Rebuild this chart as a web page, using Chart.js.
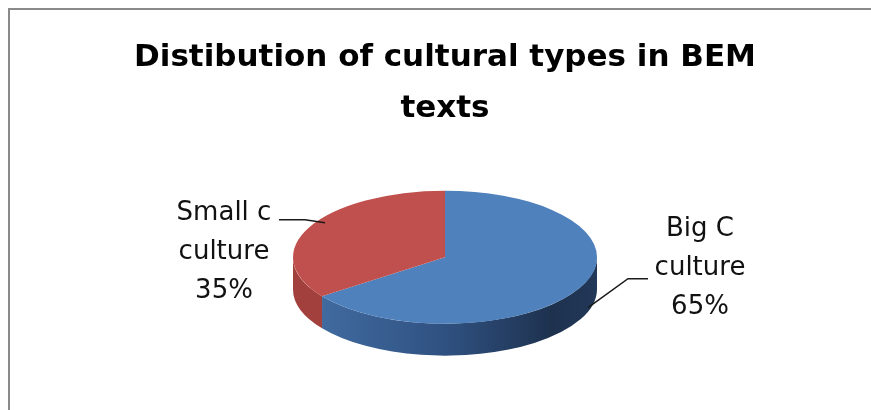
<!DOCTYPE html>
<html>
<head>
  <meta charset="UTF-8" />
  <title>Distibution of cultural types in BEM texts</title>
  <style>
    html, body { margin: 0; padding: 0; background: #fff; }
    .wrap { position: relative; width: 871px; height: 410px; overflow: hidden; }
    .frame {
      position: absolute; left: 8px; top: 8px; right: -10px; bottom: -10px;
      border-left: 2px solid #8a8a8a; border-top: 2px solid #8a8a8a;
    }
    canvas { position: absolute; left: 0; top: 0; }
  </style>
</head>
<body>
  <div class="wrap">
    <div class="frame"></div>
    <canvas id="pieChart" width="871" height="410"></canvas>
  </div>

  <script src="https://cdn.jsdelivr.net/npm/chart.js"></script>
  <script>
    const categories = ['Big C culture', 'Small c culture'];
    const labelLines = [['Big C', 'culture'], ['Small c', 'culture']];
    const values = [65, 35];
    const sliceColors = ['#4f81bd', '#c0504d'];

    // 3D look: squash the pie vertically and draw the side wall under it
    const tilt = 0.4375;
    const depth = 32;

    // label / leader line placement, relative to pie centre
    const labelLayout = [
      { anchor: [143, 50.5], elbow: [183, 21.5], end: [203, 21.5], text: [255, 11.5] },
      { anchor: [-120, -34.5], elbow: [-140, -37.5], end: [-166, -37.5], text: [-221, -4.5] }
    ];

    function pieGeom(chart) {
      const arc = chart.getDatasetMeta(0).data[0];
      return { cx: arc.x, cy: arc.y, r: arc.outerRadius };
    }

    const pie3d = {
      id: 'pie3d',
      beforeDatasetsDraw(chart) {
        const ctx = chart.ctx;
        const { cx, cy, r } = pieGeom(chart);
        const ry = r * tilt;
        const arcs = chart.getDatasetMeta(0).data;

        const blueSide = ctx.createLinearGradient(cx - r, 0, cx + r, 0);
        blueSide.addColorStop(0, '#4570a6');
        blueSide.addColorStop(0.5, '#2f5181');
        blueSide.addColorStop(0.85, '#1e324f');
        blueSide.addColorStop(1, '#223858');
        const sides = [blueSide, '#a2403d'];

        arcs.forEach((a, i) => {
          let s = a.startAngle, e = a.endAngle;
          const a1 = Math.max(s, 0), a2 = Math.min(e, Math.PI);
          if (a2 <= a1) return;
          ctx.save();
          ctx.beginPath();
          ctx.ellipse(cx, cy, r, ry, 0, a1, a2);
          ctx.ellipse(cx, cy + depth, r, ry, 0, a2, a1, true);
          ctx.closePath();
          ctx.fillStyle = sides[i];
          ctx.fill();
          ctx.restore();
        });

        ctx.save();
        ctx.translate(cx, cy);
        ctx.scale(1, tilt);
        ctx.translate(-cx, -cy);
      },
      afterDatasetsDraw(chart) {
        chart.ctx.restore();
      },
      afterDraw(chart) {
        const ctx = chart.ctx;
        const { cx, cy } = pieGeom(chart);
        const total = values.reduce((a, b) => a + b, 0);
        ctx.save();
        labelLayout.forEach((L, i) => {
          ctx.beginPath();
          ctx.moveTo(cx + L.anchor[0], cy + L.anchor[1]);
          ctx.lineTo(cx + L.elbow[0], cy + L.elbow[1]);
          ctx.lineTo(cx + L.end[0], cy + L.end[1]);
          ctx.strokeStyle = '#1a1a1a';
          ctx.lineWidth = 1.5;
          ctx.stroke();

          const lines = labelLines[i].concat([Math.round(values[i] / total * 100) + '%']);
          ctx.font = '26px "DejaVu Sans"';
          ctx.fillStyle = '#111';
          ctx.textAlign = 'center';
          ctx.textBaseline = 'middle';
          lines.forEach((t, j) => {
            ctx.fillText(t, cx + L.text[0], cy + L.text[1] + (j - 1) * 39);
          });
        });
        ctx.restore();
      }
    };

    new Chart(document.getElementById('pieChart'), {
      type: 'pie',
      data: {
        labels: categories,
        datasets: [{
          data: values,
          backgroundColor: sliceColors,
          borderWidth: 0,
          hoverOffset: 0,
          radius: 152,
          clip: false
        }]
      },
      options: {
        responsive: false,
        animation: false,
        layout: { padding: { left: 19, right: 0, top: 0, bottom: 30 } },
        plugins: {
          legend: { display: false },
          tooltip: { enabled: false },
          title: {
            display: true,
            text: ['Distibution of cultural types in BEM', 'texts'],
            color: '#000',
            font: { family: 'DejaVu Sans', size: 31, weight: 'bold', lineHeight: 1.65 },
            padding: { top: 32, bottom: 0 }
          }
        }
      },
      plugins: [pie3d]
    });
  </script>
</body>
</html>
